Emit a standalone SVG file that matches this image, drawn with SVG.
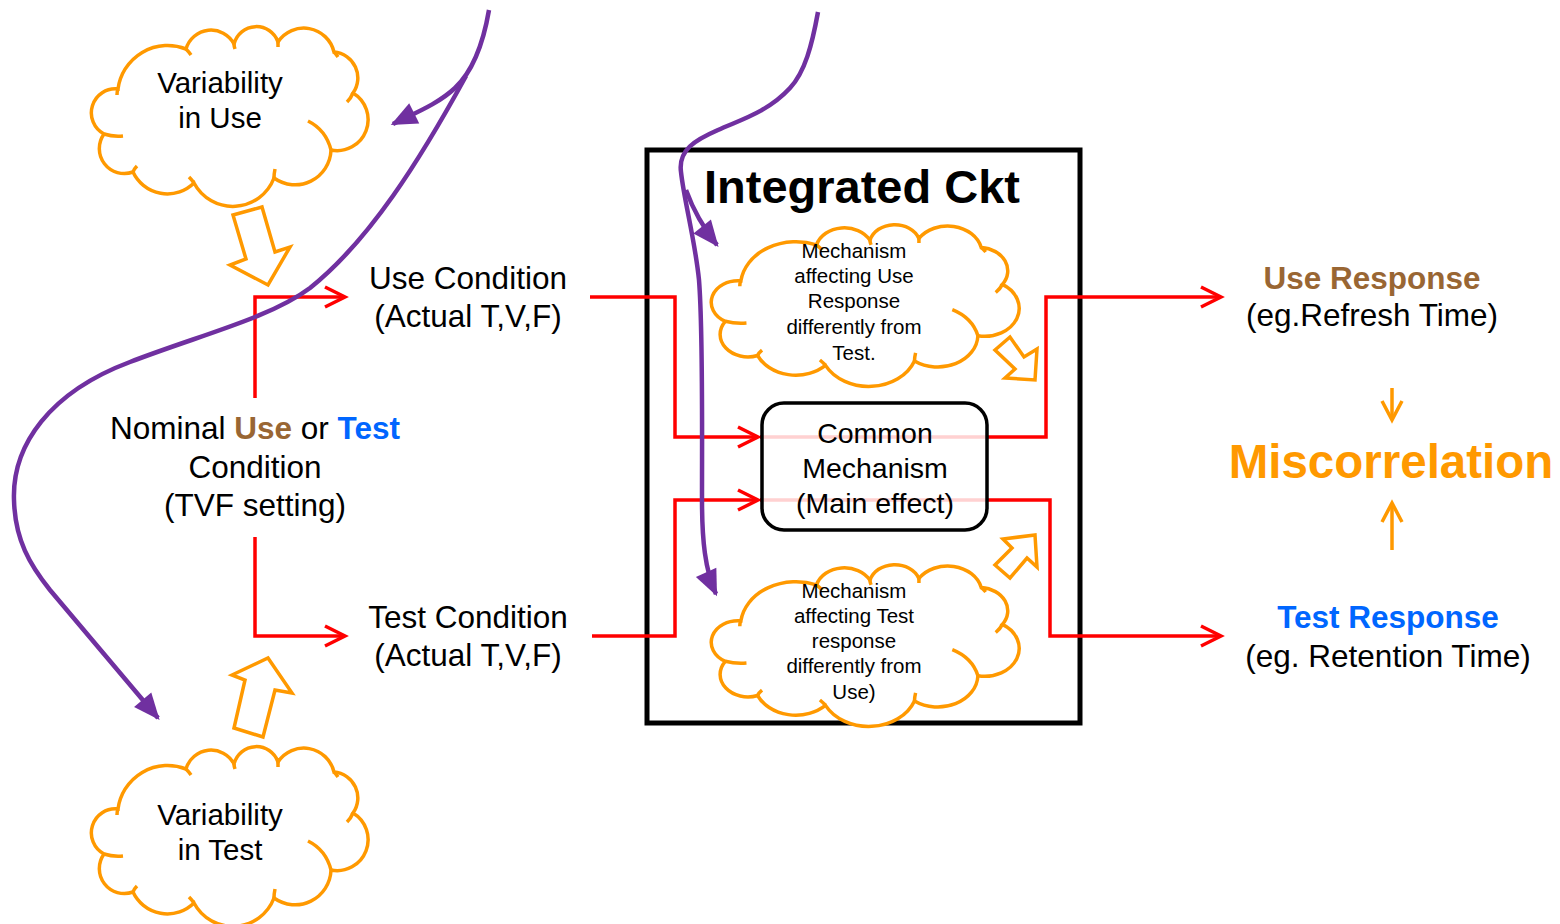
<svg xmlns="http://www.w3.org/2000/svg" xmlns:xlink="http://www.w3.org/1999/xlink" width="1560" height="924" viewBox="0 0 1560 924">
<style>
text{font-family:"Liberation Sans",Arial,sans-serif;fill:#000;text-anchor:middle}
.cl{fill:#fff;stroke:#FF9900;stroke-width:3.5;vector-effect:non-scaling-stroke}
.cli{fill:none;stroke:#FF9900;stroke-width:3.5;vector-effect:non-scaling-stroke}
.red{fill:none;stroke:#FF0000;stroke-width:3.5}
.pur{fill:none;stroke:#7030A0;stroke-width:4.5}
.blk{fill:none;stroke:#FF9900;stroke-width:3.5;stroke-linejoin:miter}
.t29{font-size:29.5px}.t31{font-size:31.5px}.t20{font-size:20.5px}.t28{font-size:28.5px}
</style>
<defs>
<g id="cloud">
<path class="cl" d="M104,134 A24,24 0 0 1 118,89 A50,50 0 0 1 186,49 A26,26 0 0 1 234,44 A23,23 0 0 1 278,42 A31,31 0 0 1 334,52 A26,26 0 0 1 353,93 A31,31 0 0 1 331,150 A36,36 0 0 1 274,178 A44,44 0 0 1 194,183 A38,38 0 0 1 133,172 A25,25 0 0 1 104,134 Z"/>
<path class="cli" d="M104,134 Q113,137 123,136 M133,172 Q134,169 137,166 M194,183 Q192,180 189,177 M274,178 Q274,174 275,169 M331,150 Q326,130 308,121 M353,93 Q351,98 347,102 M334,52 Q336,54 338,57 M278,42 Q278,44 278,47 M234,44 Q234,46 235,49 M186,49 Q189,52 191,55 M118,89 Q117,91 117,95"/>
</g>
<marker id="ra" markerUnits="userSpaceOnUse" markerWidth="26" markerHeight="26" viewBox="-23 -13 26 26" refX="0" refY="0" orient="auto" overflow="visible">
<path d="M-20,-10 L0,0 L-20,10" fill="none" stroke="#FF0000" stroke-width="3.5"/>
</marker>
<marker id="oa" markerUnits="userSpaceOnUse" markerWidth="26" markerHeight="26" viewBox="-23 -13 26 26" refX="0" refY="0" orient="auto" overflow="visible">
<path d="M-19,-10 L0,0 L-19,10" fill="none" stroke="#FF9900" stroke-width="3.5"/>
</marker>
<marker id="pa" markerUnits="userSpaceOnUse" markerWidth="30" markerHeight="30" viewBox="-20 -12 24 24" refX="0" refY="0" orient="auto" overflow="visible">
<path d="M-19,-9 L2,0 L-19,9 Z" fill="#7030A0"/>
</marker>
</defs>

<g id="ic-box">
<rect x="647" y="150" width="433" height="573" fill="none" stroke="#000" stroke-width="5"/>
<text x="862" y="203" font-size="47" font-weight="bold">Integrated Ckt</text>
</g>

<g id="connectors">
<path class="red" d="M255,398 V297 H345" marker-end="url(#ra)"/>
<path class="red" d="M255,537 V636 H345" marker-end="url(#ra)"/>
<path class="red" d="M590,297 H675 V437 H758" marker-end="url(#ra)"/>
<path class="red" d="M592,636 H675 V500 H758" marker-end="url(#ra)"/>
<path class="red" d="M760,437 H1046 V297 H1221" marker-end="url(#ra)"/>
<path class="red" d="M760,500 H1050 V636 H1221" marker-end="url(#ra)"/>
<path fill="none" stroke="#FF9900" stroke-width="3.5" d="M1392,388 V420" marker-end="url(#oa)"/>
<path fill="none" stroke="#FF9900" stroke-width="3.5" d="M1392,550 V503" marker-end="url(#oa)"/>
<polygon class="blk" fill="#fff" points="233,215 262,207 275,252 290,247 268,285 230,265 246,259"/>
<polygon class="blk" fill="#fff" points="268,658 292,693 275,690 263,737 234,728 245,680 232,675"/>
<polygon class="blk" fill="#fff" points="995,350 1010,337 1024,357 1037,349 1035,380 1005,378 1015,369"/>
<polygon class="blk" fill="#fff" points="1035,535 1037,567 1027,558 1010,578 995,565 1012,548 1003,539"/>
</g>

<g id="common">
<rect x="762" y="403" width="225" height="127" rx="22" fill="#fff" fill-opacity="0.82" stroke="#000" stroke-width="3.5"/>
<text class="t28" x="875" y="443">Common</text>
<text class="t28" x="875" y="478">Mechanism</text>
<text class="t28" x="875" y="513">(Main effect)</text>
</g>

<g id="var-use">
<use xlink:href="#cloud"/>
<text class="t29" x="220" y="93">Variability</text>
<text class="t29" x="220" y="128">in Use</text>
</g>

<g id="var-test">
<use xlink:href="#cloud" transform="translate(0,720)"/>
<text class="t29" x="220" y="825">Variability</text>
<text class="t29" x="220" y="860">in Test</text>
</g>

<g id="mech-use">
<use xlink:href="#cloud" transform="matrix(1.1127 0 0 0.9 609.6 200.7)"/>
<text class="t20" x="854" y="258">Mechanism</text>
<text class="t20" x="854" y="283">affecting Use</text>
<text class="t20" x="854" y="308">Response</text>
<text class="t20" x="854" y="334">differently from</text>
<text class="t20" x="854" y="360">Test.</text>
</g>

<g id="mech-test">
<use xlink:href="#cloud" transform="matrix(1.1127 0 0 0.9 609.6 540.7)"/>
<text class="t20" x="854" y="598">Mechanism</text>
<text class="t20" x="854" y="623">affecting Test</text>
<text class="t20" x="854" y="648">response</text>
<text class="t20" x="854" y="673">differently from</text>
<text class="t20" x="854" y="699">Use)</text>
</g>

<g id="use-cond">
<text class="t31" x="468" y="289">Use Condition</text>
<text class="t31" x="468" y="327">(Actual T,V,F)</text>
</g>

<g id="test-cond">
<text class="t31" x="468" y="628">Test Condition</text>
<text class="t31" x="468" y="666">(Actual T,V,F)</text>
</g>

<g id="nominal">
<text class="t31" x="255" y="439">Nominal <tspan font-weight="bold" style="fill:#996633">Use</tspan> or <tspan font-weight="bold" style="fill:#0066FF">Test</tspan></text>
<text class="t31" x="255" y="478">Condition</text>
<text class="t31" x="255" y="516">(TVF setting)</text>
</g>

<g id="use-resp">
<text class="t31" x="1372" y="289" font-weight="bold" style="fill:#996633">Use Response</text>
<text class="t31" x="1372" y="326">(eg.Refresh Time)</text>
</g>

<g id="miscorr">
<text x="1391" y="478" font-size="47.5" font-weight="bold" style="fill:#FF9900">Miscorrelation</text>
</g>

<g id="test-resp">
<text class="t31" x="1388" y="628" font-weight="bold" style="fill:#0066FF">Test Response</text>
<text class="t31" x="1388" y="667">(eg. Retention Time)</text>
</g>

<g id="purple-connectors">
<path class="pur" d="M489,10 C483,45 472,72 455,88 C438,104 415,113 393,124" marker-end="url(#pa)"/>
<path class="pur" d="M466,76 C420,160 370,240 310,288 C270,318 200,335 130,362 C50,392 12,445 14,500 C15,540 30,565 50,590 L158,718" marker-end="url(#pa)"/>
<path class="pur" d="M818,12 C812,45 805,72 790,88 C768,112 740,120 718,130 C695,140 678,150 681,172 C684,200 695,240 699,280 C703,330 702,420 702,500 C702,540 705,570 716,594" marker-end="url(#pa)"/>
<path class="pur" d="M686,190 C695,215 705,230 717,245" marker-end="url(#pa)"/>
</g>
</svg>
